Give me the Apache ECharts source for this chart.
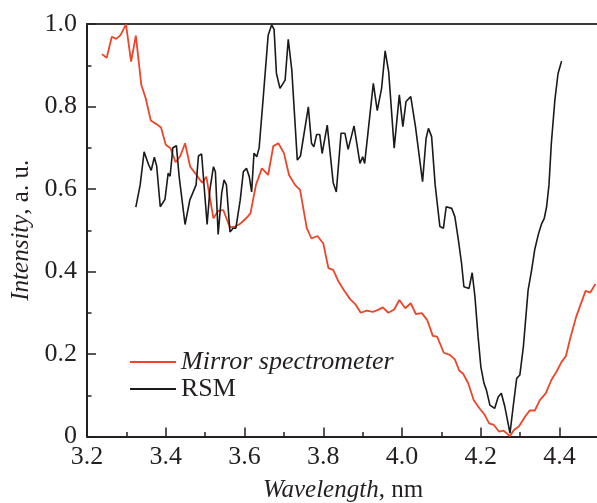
<!DOCTYPE html>
<html>
<head>
<meta charset="utf-8">
<script src="https://cdn.jsdelivr.net/npm/echarts@6/dist/echarts.min.js"></script>
<style>
html,body{margin:0;padding:0;background:#fff;}
#chart{width:597px;height:503px;}
</style>
</head>
<body>
<div id="chart"></div>
<script>
// Mirror spectrometer (red)
var mirrorX = [3.238,3.250,3.263,3.274,3.285,3.299,3.312,3.324,3.338,3.349,3.362,3.375,3.388,3.400,3.412,3.425,3.437,3.449,3.462,3.475,3.487,3.493,3.503,3.521,3.533,3.546,3.563,3.576,3.588,3.604,3.615,3.629,3.644,3.660,3.673,3.686,3.700,3.713,3.728,3.741,3.758,3.770,3.785,3.800,3.813,3.825,3.839,3.852,3.868,3.881,3.895,3.910,3.926,3.939,3.951,3.965,3.980,3.993,4.008,4.022,4.035,4.050,4.064,4.078,4.089,4.106,4.121,4.134,4.145,4.155,4.168,4.182,4.197,4.210,4.221,4.233,4.246,4.258,4.274,4.284,4.297,4.312,4.324,4.337,4.350,4.365,4.379,4.392,4.405,4.416,4.428,4.442,4.453,4.466,4.478,4.491];
var mirrorY = [0.927,0.918,0.969,0.964,0.973,0.999,0.909,0.972,0.852,0.820,0.766,0.758,0.749,0.707,0.699,0.665,0.680,0.711,0.654,0.638,0.622,0.615,0.630,0.529,0.547,0.549,0.507,0.509,0.515,0.529,0.541,0.610,0.650,0.634,0.704,0.711,0.687,0.634,0.610,0.598,0.505,0.480,0.486,0.468,0.408,0.404,0.375,0.355,0.333,0.321,0.300,0.305,0.302,0.307,0.313,0.300,0.308,0.331,0.311,0.323,0.297,0.299,0.282,0.244,0.242,0.203,0.198,0.187,0.160,0.152,0.129,0.088,0.068,0.052,0.032,0.028,0.012,0.014,0.001,0.016,0.025,0.048,0.063,0.063,0.088,0.105,0.137,0.157,0.181,0.195,0.242,0.290,0.319,0.353,0.349,0.370];
// RSM (black)
var rsmX = [3.324,3.335,3.345,3.356,3.363,3.371,3.377,3.386,3.398,3.406,3.411,3.418,3.427,3.434,3.449,3.461,3.477,3.483,3.491,3.505,3.512,3.521,3.526,3.533,3.542,3.548,3.554,3.563,3.571,3.578,3.589,3.597,3.605,3.612,3.618,3.624,3.631,3.637,3.647,3.660,3.669,3.675,3.681,3.690,3.703,3.711,3.720,3.734,3.742,3.762,3.770,3.776,3.783,3.791,3.797,3.810,3.825,3.833,3.845,3.855,3.863,3.878,3.893,3.900,3.905,3.927,3.937,3.948,3.957,3.966,3.980,3.993,4.002,4.010,4.022,4.034,4.052,4.061,4.067,4.075,4.084,4.096,4.105,4.112,4.126,4.134,4.143,4.151,4.157,4.170,4.178,4.185,4.193,4.200,4.208,4.214,4.223,4.235,4.244,4.252,4.261,4.274,4.282,4.291,4.299,4.308,4.320,4.329,4.337,4.346,4.354,4.361,4.367,4.373,4.379,4.388,4.396,4.405];
var rsmY = [0.556,0.610,0.690,0.660,0.645,0.677,0.655,0.557,0.575,0.638,0.631,0.700,0.705,0.630,0.514,0.573,0.610,0.680,0.685,0.514,0.598,0.654,0.642,0.490,0.590,0.622,0.610,0.496,0.505,0.505,0.573,0.642,0.650,0.630,0.593,0.687,0.678,0.699,0.816,0.973,0.998,0.987,0.880,0.844,0.864,0.963,0.888,0.670,0.680,0.799,0.711,0.702,0.732,0.732,0.686,0.755,0.616,0.593,0.735,0.735,0.696,0.753,0.662,0.678,0.662,0.856,0.790,0.844,0.935,0.884,0.699,0.828,0.751,0.812,0.824,0.751,0.618,0.723,0.747,0.727,0.610,0.509,0.505,0.557,0.553,0.533,0.476,0.420,0.363,0.359,0.397,0.339,0.242,0.169,0.129,0.113,0.076,0.068,0.096,0.105,0.072,0.008,0.072,0.141,0.149,0.218,0.355,0.404,0.454,0.490,0.515,0.529,0.557,0.610,0.711,0.816,0.880,0.910];
var xTicks = [3.2,3.4,3.6,3.8,4.0,4.2,4.4];
var yTicks = [0,0.2,0.4,0.6,0.8,1.0];
var seriesNames = ['Mirror spectrometer','RSM'];

function pairs(xs, ys){ return xs.map(function(x,i){ return [x, ys[i]]; }); }

var FONT = 'Liberation Serif';
var TXT = '#231f20';
var RED = '#ee4528';
var BLK = '#1a1a1a';
var chart = echarts.init(document.getElementById('chart'), null, {renderer:'canvas'});
var legendRich = {
  i:{fontFamily:FONT,fontSize:26,fontStyle:'italic',color:TXT},
  n:{fontFamily:FONT,fontSize:26,color:TXT}
};
function legendFmt(name){ return name === seriesNames[0] ? '{i|'+name+'}' : '{n|'+name+'}'; }

chart.setOption({
  animation:false,
  backgroundColor:'#fff',
  grid:{left:87, top:24, width:512, height:412.5, outerBoundsMode:'none'},
  legend:[
    {data:[{name:seriesNames[0], icon:'rect', itemStyle:{color:RED}}], left:130, top:349, padding:0, itemWidth:46, itemHeight:2, formatter:legendFmt, textStyle:{rich:legendRich, fontFamily:FONT, fontSize:26}},
    {data:[{name:seriesNames[1], icon:'rect', itemStyle:{color:BLK}}], left:130, top:376, padding:0, itemWidth:46, itemHeight:2, formatter:legendFmt, textStyle:{rich:legendRich, fontFamily:FONT, fontSize:26}}
  ],
  xAxis:[
    {type:'value', min:3.2, max:4.5, interval:0.2, position:'bottom',
     name:'{i|Wavelength}{n|, nm}', nameLocation:'middle', nameGap:41,
     nameTextStyle:{rich:{i:{fontFamily:FONT,fontSize:25,fontStyle:'italic',color:TXT},n:{fontFamily:FONT,fontSize:25,color:TXT}}},
     axisLine:{show:true,lineStyle:{color:'#231f20',width:2}},
     axisTick:{show:true,inside:true,length:9,lineStyle:{color:'#231f20',width:1.5}},
     axisLabel:{margin:8, fontFamily:FONT, fontSize:26, color:TXT, showMaxLabel:false,
       formatter:function(v){ var r=Math.round(v*10)/10; return xTicks.indexOf(r)>=0 ? r.toFixed(1) : ''; }},
     splitLine:{show:false}},
    {type:'value', min:3.2, max:4.5, interval:0.1, position:'bottom',
     axisLine:{show:false}, axisLabel:{show:false}, splitLine:{show:false},
     axisTick:{show:true,inside:true,length:4.5,lineStyle:{color:'#231f20',width:1.5}}},
    {type:'value', min:3.2, max:4.5, position:'top',
     axisLine:{show:true,lineStyle:{color:'#3a3a3a',width:2}}, axisTick:{show:false}, axisLabel:{show:false}, splitLine:{show:false}}
  ],
  yAxis:[
    {type:'value', min:0, max:1, interval:0.2, position:'left',
     name:'{i|Intensity}{n|, a. u.}', nameLocation:'middle', nameGap:52, nameRotate:90,
     nameTextStyle:{rich:{i:{fontFamily:FONT,fontSize:25,fontStyle:'italic',color:TXT},n:{fontFamily:FONT,fontSize:25,color:TXT}}},
     axisLine:{show:true,lineStyle:{color:'#231f20',width:2}},
     axisTick:{show:true,inside:true,length:9,lineStyle:{color:'#231f20',width:1.5}},
     axisLabel:{margin:10, fontFamily:FONT, fontSize:26, color:TXT,
       formatter:function(v){ var r=Math.round(v*10)/10; if(yTicks.indexOf(r)<0) return ''; return r===0?'0':r.toFixed(1); }},
     splitLine:{show:false}},
    {type:'value', min:0, max:1, interval:0.1, position:'left',
     axisLine:{show:false}, axisLabel:{show:false}, splitLine:{show:false},
     axisTick:{show:true,inside:true,length:4.5,lineStyle:{color:'#231f20',width:1.5}}}
  ],
  series:[
    {name:seriesNames[0], type:'line', xAxisIndex:0, yAxisIndex:0, data:pairs(mirrorX, mirrorY), symbol:'none',
     lineStyle:{color:RED, width:1.8}, itemStyle:{color:RED}, z:2},
    {name:seriesNames[1], type:'line', xAxisIndex:0, yAxisIndex:0, data:pairs(rsmX, rsmY), symbol:'none',
     lineStyle:{color:BLK, width:1.6}, itemStyle:{color:BLK}, z:3}
  ]
});
</script>
</body>
</html>
